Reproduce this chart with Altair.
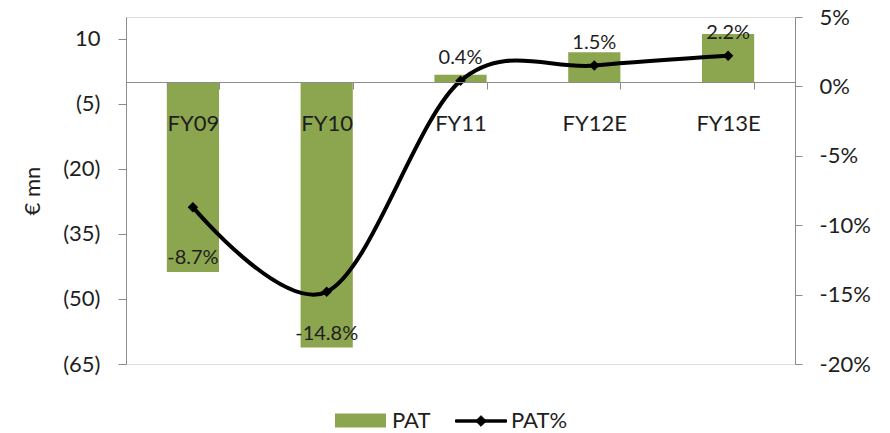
import altair as alt
import pandas as pd

years = ["FY09", "FY10", "FY11", "FY12E", "FY13E"]
pat = [-43.8, -61.2, 1.7, 6.9, 11.1]
pat_pct = [-8.7, -14.8, 0.4, 1.5, 2.2]
left_ticks = [10, -5, -20, -35, -50, -65]
right_ticks = [5, 0, -5, -10, -15, -20]

df = pd.DataFrame({"year": years, "PAT": pat, "PATpct": pat_pct})

FONT = "Lato"
GREEN = "#8CA64F"
TEXT = "#1e1e1e"
AXIS = "#8c8c8c"

x = alt.X(
    "year:N", sort=years,
    scale=alt.Scale(paddingInner=0.61, paddingOuter=0.305),
    axis=alt.Axis(title=None, orient="bottom", offset=-282, labelAngle=0,
                  tickBand="extent", tickSize=7, tickColor=AXIS, domainColor=AXIS,
                  labelFont=FONT, labelFontSize=22, labelColor=TEXT, labelPadding=24,
                  grid=False, zindex=1),
)

y_left = alt.Y(
    "PAT:Q",
    scale=alt.Scale(domain=[-65, 15], nice=False, zero=False),
    axis=alt.Axis(values=left_ticks, grid=False, title="€ mn",
                  labelExpr="datum.value < 0 ? '(' + (-datum.value) + ')' : '' + datum.value",
                  labelFont=FONT, labelFontSize=22, labelColor=TEXT, labelPadding=18,
                  tickSize=8, tickColor=AXIS, domainColor=AXIS,
                  titleFont=FONT, titleFontSize=22, titleFontWeight="normal",
                  titleColor=TEXT, titlePadding=18),
)

y_right = alt.Y(
    "PATpct:Q",
    scale=alt.Scale(domain=[-20, 5], nice=False, zero=False),
    axis=alt.Axis(orient="right", values=right_ticks, grid=False, title=None,
                  labelExpr="datum.value + '%'",
                  labelFont=FONT, labelFontSize=22, labelColor=TEXT, labelPadding=17,
                  tickSize=7, tickColor=AXIS, domainColor=AXIS),
)

RECT_PATH = "M-1,-0.27L1,-0.27L1,0.27L-1,0.27Z"
LINE_PATH = "M-1,-0.045L1,-0.045L1,0.045L-1,0.045Z M0,-0.21L0.21,0L0,0.21L-0.21,0Z"

fill_enc = alt.Fill(
    "series:N",
    scale=alt.Scale(domain=["PAT"], range=[GREEN]),
    legend=alt.Legend(title=None, orient="none", legendX=209, legendY=378,
                      symbolType=RECT_PATH, symbolSize=2601, symbolStrokeWidth=0,
                      labelFont=FONT, labelFontSize=22, labelColor=TEXT, labelOffset=6),
)

stroke_enc = alt.Stroke(
    "series:N",
    scale=alt.Scale(domain=["PAT%"], range=["#000000"]),
    legend=alt.Legend(title=None, orient="none", legendX=329, legendY=378,
                      symbolType=LINE_PATH, symbolSize=2601, symbolStrokeWidth=1,
                      symbolFillColor="#000000",
                      labelFont=FONT, labelFontSize=22, labelColor=TEXT, labelOffset=4),
)

bars = alt.Chart().mark_bar().transform_calculate(series="'PAT'").encode(
    x=x, y=y_left, fill=fill_enc)

neg_text = alt.Chart().mark_text(
    font=FONT, fontSize=20, color=TEXT, baseline="middle", dy=-14
).transform_filter("datum.PAT < 0").transform_calculate(
    label="datum.PATpct + '%'"
).encode(x=x, y=y_left, text="label:N")

line = alt.Chart().mark_line(interpolate="cardinal", strokeWidth=4).transform_calculate(
    series="'PAT%'").encode(x=x, y=y_right, stroke=stroke_enc)

points = alt.Chart().mark_point(shape="diamond", filled=True, size=110,
                                color="#000000", opacity=1).encode(x=x, y=y_right)

pos_text = alt.Chart().mark_text(
    font=FONT, fontSize=20, color=TEXT, baseline="middle", dy=-23
).transform_filter("datum.PATpct > 0").transform_calculate(
    label="datum.PATpct + '%'"
).encode(x=x, y=y_right, text="label:N")

left = alt.layer(bars, neg_text)
right = alt.layer(line, points, pos_text)

chart = alt.layer(left, right, data=df).resolve_scale(y="independent").properties(
    width=669, height=347,
    padding={"left": 126, "top": 17, "right": 95, "bottom": 69},
    autosize="none",
).configure_view(stroke=None).configure(background="white")

chart.save("out.html", embed_options={"renderer": "svg", "actions": False})
